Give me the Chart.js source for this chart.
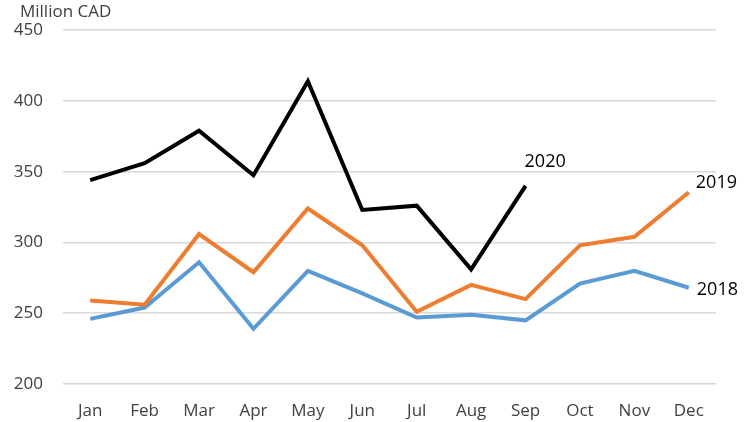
<!DOCTYPE html>
<html><head><meta charset="utf-8">
<script src="https://cdn.jsdelivr.net/npm/chart.js@4"></script>
<style>html,body{margin:0;padding:0;background:#fff}#wrap{width:750px;height:422px}</style>
</head><body><div id="wrap"><canvas id="c" width="750" height="422"></canvas></div>
<script>
const months = ["Jan","Feb","Mar","Apr","May","Jun","Jul","Aug","Sep","Oct","Nov","Dec"];
const s2020 = [344,356,379,347.5,414,323,326,281,340,null,null,null];
const s2019 = [259,256,306,279,324,298,251,270,260,298,304,335.5];
const s2018 = [246,254,286,239,280,264,247,249,245,271,280,268];
const yTicks = [200,250,300,350,400,450];
const unitLabel = "Million CAD";
const FONT = "'Open Sans', 'Liberation Sans', sans-serif";

const labelPlugin = {
  id: 'lbl',
  afterDatasetsDraw(chart) {
    const ctx = chart.ctx;
    ctx.save();
    ctx.font = "18px " + FONT;
    ctx.fillStyle = "#000";
    ctx.textBaseline = "middle";
    ctx.textAlign = "left";
    chart.data.datasets.forEach((ds, i) => {
      const meta = chart.getDatasetMeta(i);
      let idx = ds.data.length - 1;
      while (ds.data[idx] == null) idx--;
      const p = meta.data[idx];
      const off = ds.lblOff;
      ctx.fillText(ds.label, p.x + off[0], p.y + off[1]);
    });
    ctx.fillStyle = "#404040";
    ctx.font = "17px " + FONT;
    ctx.fillText(unitLabel, 20, 12);
    ctx.restore();
  }
};

new Chart(document.getElementById('c'), {
  type: 'line',
  data: {
    labels: months,
    datasets: [
      {label:"2020", data:s2020, borderColor:"#000000", lblOff:[-1,-24]},
      {label:"2019", data:s2019, borderColor:"#ED7D31", lblOff:[7,-9]},
      {label:"2018", data:s2018, borderColor:"#5B9BD5", lblOff:[8,2]}
    ].map(d => Object.assign(d, {borderWidth:4, pointRadius:0, tension:0, fill:false, spanGaps:false}))
  },
  options: {
    responsive:false, animation:false,
    layout:{padding:{top:28,right:34,left:0,bottom:0}},
    plugins:{legend:{display:false}, tooltip:{enabled:false}},
    scales:{
      x:{
        offset:true,
        grid:{display:false, drawTicks:false},
        border:{display:false},
        ticks:{color:"#404040", font:{size:17, family:FONT}, padding:17},
        afterFit(s){ s.height = 38; }
      },
      y:{
        min:200, max:450,
        afterBuildTicks(s){ s.ticks = yTicks.map(v => ({value:v})); },
        grid:{color:"#d9d9d9", lineWidth:1.5, drawTicks:false},
        border:{display:false},
        ticks:{color:"#404040", font:{size:17, family:FONT}, padding:20},
        afterFit(s){ s.width = 63; }
      }
    }
  },
  plugins:[labelPlugin]
});
</script></body></html>
